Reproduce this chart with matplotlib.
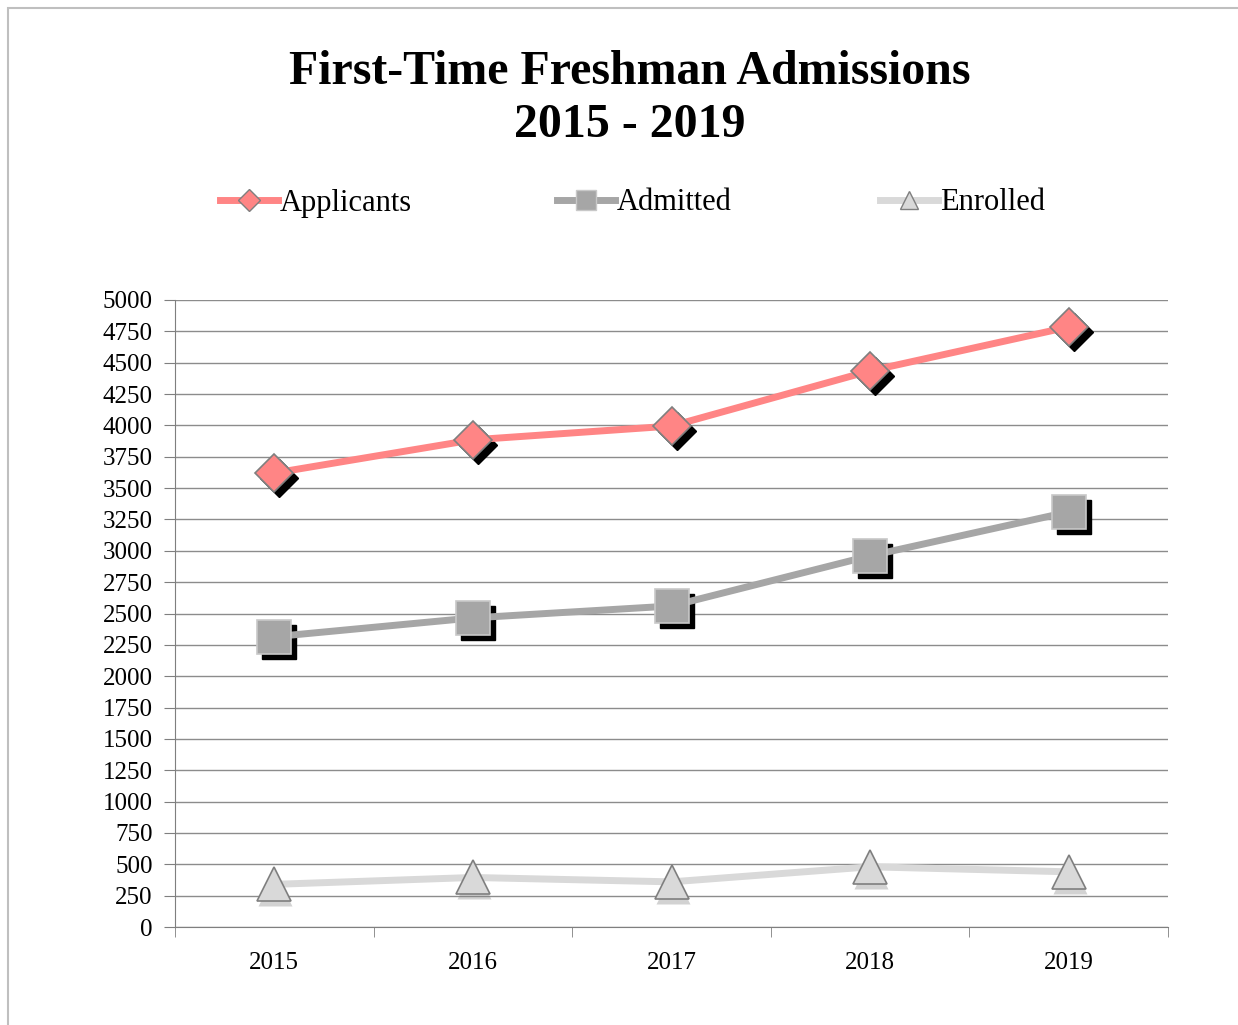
import matplotlib
matplotlib.use("Agg")
import matplotlib.pyplot as plt
import matplotlib.transforms as mtransforms
from matplotlib.patches import Rectangle

years = ["2015", "2016", "2017", "2018", "2019"]
applicants = [3620, 3885, 3995, 4435, 4785]
admitted = [2315, 2465, 2560, 2960, 3310]
enrolled = [340, 395, 360, 480, 440]

plt.rcParams['font.family'] = ['Liberation Serif', 'DejaVu Serif']

fig = plt.figure(figsize=(12.38, 10.25), dpi=100)
ax = fig.add_axes([175/1238, 1 - 927/1025, 993/1238, 627/1025])

x = list(range(len(years)))
shadow = mtransforms.offset_copy(ax.transData, fig=fig, x=5, y=-5, units='dots')
soft = mtransforms.offset_copy(ax.transData, fig=fig, x=1, y=-5, units='dots')

# applicants
ax.plot(x, applicants, ls='none', marker='D', ms=19, color='black', mec='black',
        transform=shadow, zorder=2)
ax.plot(x, applicants, color='#FF8585', lw=5, zorder=3, solid_capstyle='round')
ax.plot(x, applicants, ls='none', marker='D', ms=19, mfc='#FF8585', mec='#7F7F7F',
        mew=1.2, zorder=4)

# admitted
ax.plot(x, admitted, ls='none', marker='s', ms=25, color='black', mec='black',
        transform=shadow, zorder=2)
ax.plot(x, admitted, color='#A6A6A6', lw=5, zorder=3, solid_capstyle='round')
ax.plot(x, admitted, ls='none', marker='s', ms=25, mfc='#A6A6A6', mec='#C8C8C8',
        mew=1.2, zorder=4)

# enrolled
ax.plot(x, enrolled, ls='none', marker='^', ms=25, color='#808080', mec='none', alpha=0.35,
        transform=soft, zorder=2)
ax.plot(x, enrolled, color='#D9D9D9', lw=5, zorder=3, solid_capstyle='round')
ax.plot(x, enrolled, ls='none', marker='^', ms=25, mfc='#D9D9D9', mec='#7F7F7F',
        mew=1.2, zorder=4)

ax.set_xlim(-0.5, 4.5)
ax.set_ylim(0, 5000)
ax.set_yticks(range(0, 5001, 250))
ax.set_xticks(x)
ax.set_xticklabels(years)
ax.set_xticks([i - 0.5 for i in range(6)], minor=True)
ax.tick_params(axis='x', which='major', length=0, labelsize=18, pad=18)
ax.tick_params(axis='x', which='minor', length=7, color='#7F7F7F', direction='out')
ax.tick_params(axis='y', length=8, color='#7F7F7F', labelsize=18, pad=8)
ax.grid(axis='y', color='#8C8C8C', lw=1)
ax.set_axisbelow(True)
for s in ['top', 'right']:
    ax.spines[s].set_visible(False)
ax.spines['left'].set_color('#7F7F7F')
ax.spines['bottom'].set_color('#7F7F7F')

fig.text(0.509, 1 - 72/1025, "First-Time Freshman Admissions", ha='center', va='center',
         fontsize=34.5, fontweight='bold')
fig.text(0.509, 1 - 125/1025, "2015 - 2019", ha='center', va='center',
         fontsize=34.5, fontweight='bold')

# legend entries, placed one by one
h1, = ax.plot([], [], color='#FF8585', lw=5, marker='D', ms=11, mfc='#FF8585', mec='#7F7F7F')
h2, = ax.plot([], [], color='#A6A6A6', lw=5, marker='s', ms=14, mfc='#A6A6A6', mec='#C8C8C8')
h3, = ax.plot([], [], color='#D9D9D9', lw=5, marker='^', ms=13, mfc='#D9D9D9', mec='#7F7F7F')
for h, lab, xl in [(h1, "Applicants", 220), (h2, "Admitted", 557), (h3, "Enrolled", 880)]:
    fig.legend([h], [lab], frameon=False, loc='center left',
               bbox_to_anchor=(xl/1238, 1 - 203/1025), fontsize=22,
               handlelength=1.9, handletextpad=0.05, borderpad=0, borderaxespad=0)

fig.patches.append(Rectangle((8/1238, -0.1), 1.2, 1.1 - 8/1025, transform=fig.transFigure,
                             fill=False, edgecolor='#BFBFBF', lw=1.5))

fig.savefig("out.png", dpi=100)
